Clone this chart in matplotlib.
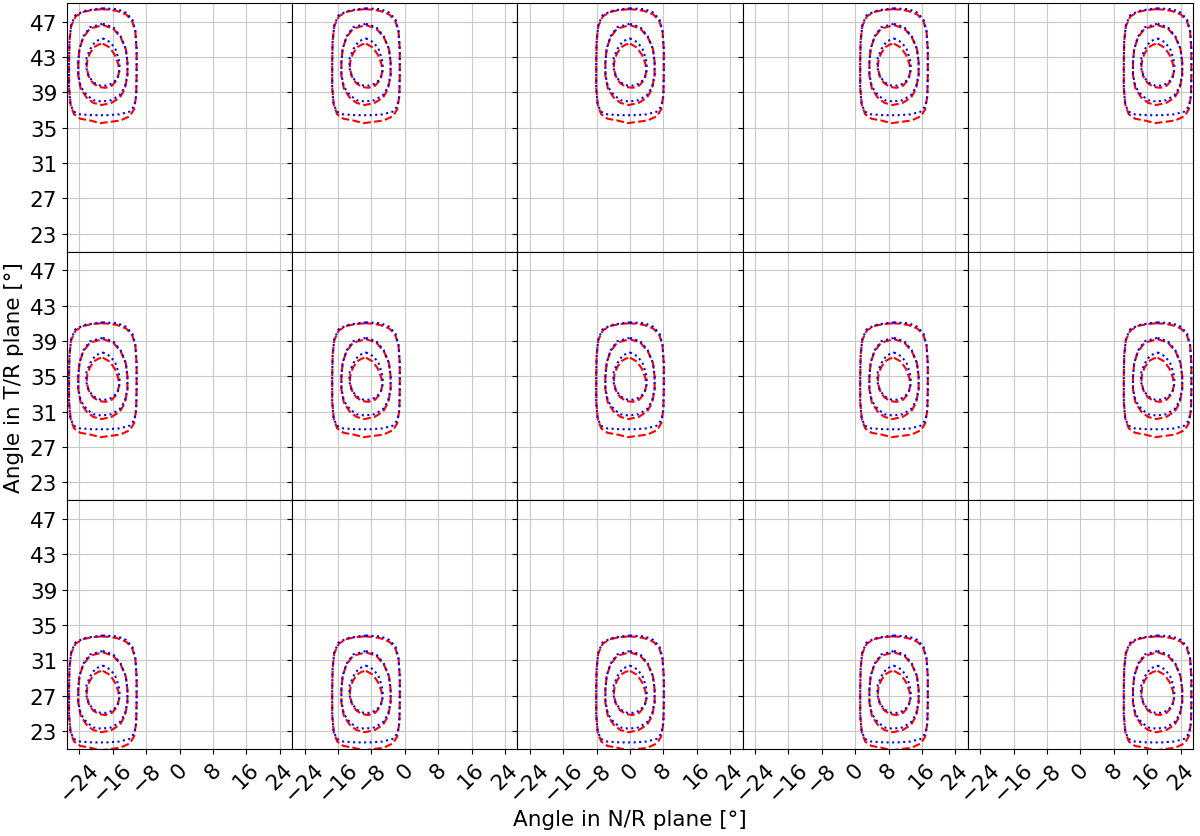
import matplotlib.pyplot as plt

# centros de cada panel (columna: plano N/R, fila: plano T/R)
nr_centres = [-18.4, -9.3, 0.0, 9.3, 18.5]
tr_centres = [42.0, 34.6, 27.3]

x_ticks = [-24, -16, -8, 0, 8, 16, 24]
y_ticks = [23, 27, 31, 35, 39, 43, 47]

# contornos, desplazamientos (dx, dy) respecto al centro
red_outer = [(-0.3, 6.4), (1.5, 6.35), (3.4, 6.2), (5.6, 5.8), (7.0, 5.1), (7.8, 3.9),
             (8.1, 1.8), (8.1, -1.0), (8.0, -3.4), (7.5, -4.9), (6.5, -5.7), (4.2, -6.2),
             (1.8, -6.35), (-0.6, -6.5), (-3.0, -6.2), (-5.4, -6.0), (-6.9, -5.5),
             (-7.7, -4.5), (-8.1, -2.5), (-8.1, 0.5), (-8.0, 2.8), (-7.6, 4.5),
             (-6.5, 5.6), (-4.6, 6.1), (-2.6, 6.3)]
blue_outer = [(0.0, 6.5), (3.5, 6.4), (5.6, 6.0), (7.1, 5.2), (7.8, 3.9), (8.1, 1.8),
              (8.1, -1.0), (8.0, -3.4), (7.5, -4.6), (6.4, -5.2), (4.0, -5.5), (1.0, -5.6),
              (-2.5, -5.6), (-5.5, -5.5), (-7.0, -5.2), (-7.8, -4.3), (-8.1, -2.5),
              (-8.1, 0.5), (-8.0, 2.8), (-7.6, 4.6), (-6.6, 5.7), (-4.5, 6.2), (-2.0, 6.4)]
red_middle = [(0.0, 4.6), (2.5, 4.2), (4.3, 3.2), (5.5, 1.9), (5.9, 0.4), (5.9, -1.1),
              (5.3, -2.6), (4.1, -3.6), (2.1, -4.2), (-0.3, -4.45), (-2.3, -4.2),
              (-3.9, -3.6), (-5.3, -2.6), (-5.9, -1.1), (-5.9, 0.4), (-5.6, 1.9),
              (-4.7, 3.2), (-3.1, 4.2)]
blue_middle = [(0.0, 4.75), (2.5, 4.35), (4.3, 3.3), (5.5, 1.9), (5.9, 0.4), (5.9, -1.0),
               (5.3, -2.4), (4.1, -3.3), (2.1, -3.9), (-0.3, -4.05), (-2.3, -3.9),
               (-3.9, -3.3), (-5.3, -2.4), (-5.9, -1.0), (-5.9, 0.4), (-5.6, 1.9),
               (-4.7, 3.3), (-3.1, 4.35)]
red_inner = [(0.0, 2.5), (1.7, 2.05), (2.9, 1.2), (3.7, 0.2), (3.9, -0.7), (3.4, -1.6),
             (2.2, -2.25), (0.6, -2.5), (-1.0, -2.4), (-2.4, -1.95), (-3.4, -1.2),
             (-3.9, -0.2), (-3.7, 0.7), (-3.1, 1.4), (-2.1, 2.1), (-1.0, 2.4)]
blue_inner = [(0.0, 3.1), (1.8, 2.65), (3.0, 1.9), (3.8, 0.8), (4.1, -0.3), (3.6, -1.3),
              (2.5, -1.95), (1.0, -2.25), (-0.6, -2.25), (-2.2, -1.9), (-3.4, -1.2),
              (-4.0, -0.2), (-3.9, 0.9), (-3.0, 1.9), (-1.8, 2.75)]

red_contours = [red_outer, red_middle, red_inner]
blue_contours = [blue_outer, blue_middle, blue_inner]


def dibujar_contorno(ax, puntos, cx, cy, estilo, color):
    xs = [cx + p[0] for p in puntos] + [cx + puntos[0][0]]
    ys = [cy + p[1] for p in puntos] + [cy + puntos[0][1]]
    ax.plot(xs, ys, linestyle=estilo, color=color, lw=1.5)


fig, axes = plt.subplots(3, 5, sharex=True, sharey=True, figsize=(12, 8.37), dpi=100)
fig.subplots_adjust(left=0.0558, right=0.9942, top=0.9952, bottom=0.1039,
                    wspace=0, hspace=0)

for i, cy in enumerate(tr_centres):
    for j, cx in enumerate(nr_centres):
        ax = axes[i, j]
        for c in red_contours:
            dibujar_contorno(ax, c, cx, cy, "--", "red")
        for c in blue_contours:
            dibujar_contorno(ax, c, cx, cy, ":", "blue")
        ax.grid(True, color="#c8c8c8")
        ax.set_xticks(x_ticks)
        ax.set_yticks(y_ticks)
        ax.tick_params(labelsize=15.5)
        if i == 2:
            for lab in ax.get_xticklabels():
                lab.set_rotation(45)

axes[0, 0].set_xlim(-27, 27)
axes[0, 0].set_ylim(20.95, 49.1)

fig.text(0.525, 0.0203, "Angle in N/R plane [°]", ha="center", va="center", fontsize=15.5)
fig.text(0.0118, 0.549, "Angle in T/R plane [°]", ha="center", va="center",
         rotation=90, fontsize=15.5)

plt.savefig("out.png", dpi=100)
